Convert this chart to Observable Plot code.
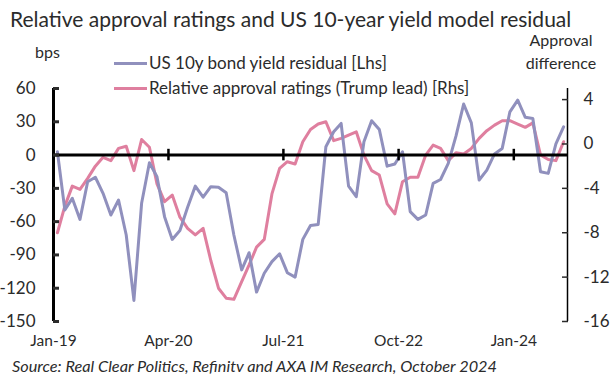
<!DOCTYPE html>
<html><head><meta charset="utf-8">
<script src="https://cdn.jsdelivr.net/npm/d3@7"></script>
<script src="https://cdn.jsdelivr.net/npm/@observablehq/plot@0.6"></script>
<style>
body{margin:0;background:#fff;}
#wrap{position:relative;width:614px;height:379px;font-family:Lato, "Noto Sans", sans-serif;color:#2b2b2b;overflow:hidden;background:#fff}
#wrap svg{position:absolute;left:0;top:0}
.t{position:absolute;white-space:nowrap;line-height:1}
.sw{position:absolute;height:3px}
</style></head><body><div id="wrap"></div>
<script>
// ---- data ----
const firstMonth = "2019-01-01";
const lastMonthEnd = "2024-08-01";
const residualBps = [3,-49.5,-39,-58,-24,-20,-34.5,-54,-40.5,-72,-131,-43.5,-7,-19.5,-55.5,-76,
  -68,-47,-28,-38,-28.5,-29,-34,-72,-103.5,-88,-123.5,-106.5,-96,-89,-106,-110,-76,
  -63.5,-62.5,7.5,21,28.5,-28,-37.5,12,31,23,-10,-8,3,-51,-58,-54,-25.5,
  -22,-7.5,17,46,29,-22.5,-13.5,1,6,39,49.5,34,33,-15,-16.5,10,25.5];
const approvalDiff = [-8.0,-5.6,-3.8,-4.1,-3.1,-2.0,-1.2,-1.5,-0.4,-0.2,-2.4,0.4,-0.3,-3.6,-5.2,-4.6,
  -6.6,-7.6,-8.2,-7.6,-10.5,-13.0,-13.9,-14.0,-12.4,-10.9,-9.3,-8.6,-4.5,-2.2,-1.6,-1.8,0.2,
  1.3,1.8,2.0,0.3,0.5,0.8,1.1,-1.0,-2.4,-2.8,-5.4,-6.3,-3.4,-3.0,-3.0,-1.0,-0.1,
  -0.4,-1.5,-0.8,-0.9,-0.4,0.5,1.2,1.7,2.1,2.1,1.8,1.5,1.9,-1.0,-1.4,-1.5,0.2];
const xTickDates = ["2019-01-01","2020-04-01","2021-07-01","2022-10-01","2024-01-01"];
const xTickLabels = ["Jan-19","Apr-20","Jul-21","Oct-22","Jan-24"];
const leftTicks = [60,30,0,-30,-60,-90,-120,-150];
const rightTicks = [4,0,-4,-8,-12,-16];
const leftDomain = [-150,60];
const rightDomain = [-16,5];
const seriesNames = ["US 10y bond yield residual [Lhs]","Relative approval ratings (Trump lead) [Rhs]"];
const seriesColors = ["#9090bd","#df7f9f"];
const titleText = "Relative approval ratings and US 10-year yield model residual";
const sourceText = "Source: Real Clear Politics, Refinitv and AXA IM Research, October 2024";
const leftUnit = "bps";
const rightUnit = ["Approval","difference"];

// ---- build ----
const start = new Date(firstMonth);
const midMonth = i => {
  const a = d3.utcMonth.offset(start, i), b = d3.utcMonth.offset(start, i + 1);
  return new Date((+a + +b) / 2);
};
// right axis -> left axis units
const k = (leftDomain[1]-leftDomain[0])/(rightDomain[1]-rightDomain[0]);
const toLeft = v => leftDomain[0] + (v - rightDomain[0]) * k;
const fromLeft = y => Math.round(((y - leftDomain[0]) / k + rightDomain[0]) * 1000) / 1000;

const blue = residualBps.map((v,i)=>({date: midMonth(i), v}));
const pink = approvalDiff.map((v,i)=>({date: midMonth(i), v: toLeft(v)}));
const xT = xTickDates.map(d=>new Date(d));

const chart = Plot.plot({
  width: 614, height: 379,
  marginLeft: 53, marginRight: 47, marginTop: 88, marginBottom: 58,
  style: {fontFamily: "Lato, 'Noto Sans', sans-serif", fontSize: "15px", color: "#2b2b2b", background: "transparent"},
  x: {type: "utc", domain: [start, new Date(lastMonthEnd)], label: null},
  y: {domain: leftDomain, label: null},
  marks: [
    Plot.line(pink, {x: "date", y: "v", stroke: seriesColors[1], strokeWidth: 3, strokeLinejoin: "round"}),
    Plot.line(blue, {x: "date", y: "v", stroke: seriesColors[0], strokeWidth: 3, strokeLinejoin: "round"}),
    Plot.ruleY([0], {stroke: "black", strokeWidth: 3}),
    Plot.ruleX(xT.slice(1), {x: d=>d, y1: -5.2, y2: 5.2, stroke: "black", strokeWidth: 2.5}),
    Plot.ruleX([start], {stroke: "black", strokeWidth: 3}),
    Plot.ruleX([new Date(lastMonthEnd)], {stroke: "black", strokeWidth: 1.5}),
    Plot.axisY(leftTicks, {anchor: "left", label: null, tickSize: -6, tickPadding: 24, strokeWidth: 3,
      tickFormat: d => String(d), fontSize: 17, fill: "#2b2b2b"}),
    Plot.axisY(rightTicks.map(toLeft), {anchor: "right", label: null, tickSize: -6, tickPadding: 22, strokeWidth: 1.5,
      tickFormat: d => String(fromLeft(d)), fontSize: 17, fill: "#2b2b2b"}),
    Plot.axisX(xT, {anchor: "bottom", label: null, tickSize: 0, tickPadding: 13,
      tickFormat: (d,i) => xTickLabels[i], fontSize: 15.5, fill: "#2b2b2b"})
  ]
});
const wrap = document.getElementById("wrap");
wrap.appendChild(chart);

function addText(txt, left, top, css) {
  const d = document.createElement("div");
  d.className = "t"; d.textContent = txt;
  d.style.left = left + "px"; d.style.top = top + "px";
  Object.assign(d.style, css || {});
  wrap.appendChild(d); return d;
}
addText(titleText, 10, 8, {fontSize: "21px"});
addText(leftUnit, 35, 44, {fontSize: "16px"});
addText(rightUnit[0], 561, 32, {fontSize: "16px", transform: "translateX(-50%)"});
addText(rightUnit[1], 561, 55, {fontSize: "16px", transform: "translateX(-50%)"});
addText(sourceText, 12, 358, {fontSize: "16.3px", fontStyle: "italic"});
seriesNames.forEach((n,i)=>{
  const y = i === 0 ? 63 : 88;
  const s = document.createElement("div");
  s.className = "sw"; s.style.left = "114px"; s.style.width = "33px";
  s.style.top = (y-1.5) + "px"; s.style.background = seriesColors[i];
  wrap.appendChild(s);
  addText(n, 149, y - 9, {fontSize: "17px"});
});
</script></body></html>
